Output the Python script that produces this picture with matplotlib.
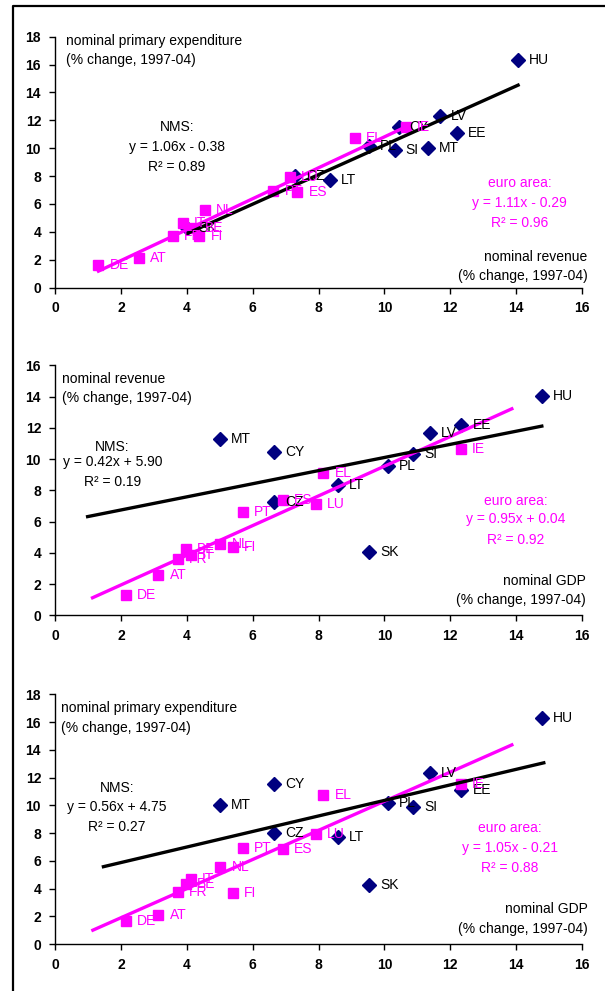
import numpy as np
import matplotlib
matplotlib.use("Agg")
import matplotlib.pyplot as plt
from matplotlib.lines import Line2D

plt.rcParams['font.family'] = ['Liberation Sans', 'DejaVu Sans']
plt.rcParams['font.size'] = 10

# new member states (NMS), % change 1997-04
nms_countries = ["HU", "LV", "EE", "MT", "SI", "PL", "CY", "CZ", "LT", "SK"]
nms_revenue = [14.06, 11.69, 12.19, 11.31, 10.31, 9.53, 10.43, 7.28, 8.34, 4.02]
nms_expenditure = [16.30, 12.31, 11.10, 10.00, 9.88, 10.14, 11.50, 8.00, 7.71, 4.24]
nms_gdp = [14.78, 11.38, 12.34, 5.01, 10.88, 10.11, 6.64, 6.64, 8.58, 9.54]

# euro area countries, % change 1997-04
ea_countries = ["DE", "AT", "FR", "BE", "IT", "NL", "FI", "PT", "ES", "LU", "EL", "IE"]
ea_revenue = [1.32, 2.55, 3.58, 4.22, 3.88, 4.54, 4.38, 6.63, 7.36, 7.12, 9.10, 10.66]
ea_expenditure = [1.65, 2.12, 3.73, 4.30, 4.65, 5.56, 3.70, 6.90, 6.88, 7.93, 10.73, 11.50]
ea_gdp = [2.16, 3.14, 3.73, 3.97, 4.12, 5.02, 5.39, 5.71, 6.93, 7.92, 8.15, 12.33]

# trend lines as printed on the chart (slope, intercept, x range drawn)
nms_slope = [1.06, 0.42, 0.56]
nms_intercept = [-0.38, 5.90, 4.75]
nms_r2 = [0.89, 0.19, 0.27]
nms_trend_range = [(4.02, 14.06), (0.99, 14.78), (1.47, 14.84)]
ea_slope = [1.11, 0.95, 1.05]
ea_intercept = [-0.29, 0.04, -0.21]
ea_r2 = [0.96, 0.92, 0.88]
ea_trend_range = [(1.32, 10.66), (1.14, 13.87), (1.15, 13.87)]

x_titles = ["nominal revenue", "nominal GDP", "nominal GDP"]
y_titles = ["nominal primary expenditure", "nominal revenue", "nominal primary expenditure"]
y_max = [18, 16, 18]

NAVY = "#000080"
MAGENTA = "#FF00FF"
PX = 0.72  # points per pixel at 100 dpi


def equation(slope, intercept):
    sign = "+" if intercept >= 0 else "-"
    return f"y = {slope:.2f}x {sign} {abs(intercept):.2f}"


def text_block(ax, pos, lines, gaps, color):
    # middle line anchored at pos, the others offset by gaps (pixels)
    x, y = pos
    ax.text(x, y, lines[1], ha="center", va="center", color=color)
    ax.annotate(lines[0], (x, y), xytext=(0, gaps[0] * PX), textcoords="offset points",
                ha="center", va="center", color=color)
    ax.annotate(lines[2], (x, y), xytext=(0, -gaps[1] * PX), textcoords="offset points",
                ha="center", va="center", color=color)


def draw_panel(ax, i, nms_x, nms_y, ea_x, ea_y, layout):
    ax.plot(nms_x, nms_y, linestyle="none", marker="D", markersize=7.5,
            color=NAVY, zorder=3)
    ax.plot(ea_x, ea_y, linestyle="none", marker="s", markersize=7,
            color=MAGENTA, zorder=4)

    # trend lines
    xs = np.array(ea_trend_range[i])
    ax.plot(xs, ea_slope[i] * xs + ea_intercept[i], color=MAGENTA, lw=2.4, zorder=5)
    xs = np.array(nms_trend_range[i])
    ax.plot(xs, nms_slope[i] * xs + nms_intercept[i], color="black", lw=2.4, zorder=6)

    for name, x, y in zip(nms_countries, nms_x, nms_y):
        ax.annotate(name, (x, y), xytext=(8, 0), textcoords="offset points",
                    va="center", ha="left", color="black", zorder=7)
    for name, x, y in zip(ea_countries, ea_x, ea_y):
        ax.annotate(name, (x, y), xytext=(8, 0), textcoords="offset points",
                    va="center", ha="left", color=MAGENTA, zorder=8)

    ax.set_xlim(0, 16)
    ax.set_ylim(0, y_max[i])
    ax.set_xticks(np.arange(0, 17, 2))
    ax.set_yticks(np.arange(0, y_max[i] + 1, 2))
    for s in ["top", "right"]:
        ax.spines[s].set_visible(False)
    for s in ["left", "bottom"]:
        ax.spines[s].set_linewidth(1.0)
    ax.tick_params(direction="out", length=4, width=1, labelsize=10, pad=6)
    for lab in ax.get_xticklabels() + ax.get_yticklabels():
        lab.set_fontweight("bold")

    yt, nt, ngaps, et, egaps, xt = layout
    ax.text(yt[0], yt[1], y_titles[i] + "\n(% change, 1997-04)", ha="left",
            va="center", linespacing=1.5)
    ax.text(xt[0], xt[1], x_titles[i] + "\n(% change, 1997-04)", ha="right",
            va="center", linespacing=1.5, multialignment="right")
    text_block(ax, nt, ["NMS:", equation(nms_slope[i], nms_intercept[i]),
                        f"R² = {nms_r2[i]:.2f}"], ngaps, "black")
    text_block(ax, et, ["euro area:", equation(ea_slope[i], ea_intercept[i]),
                        f"R² = {ea_r2[i]:.2f}"], egaps, MAGENTA)


fig = plt.figure(figsize=(6.05, 9.91), dpi=100)
W, H = 605.0, 991.0

# axes boxes in pixels: (left, x-axis y, top)
boxes = [(55, 287.5, 36.7), (55, 615.3, 365.3), (55, 944.0, 694.3)]
# text anchors in data units: y title, NMS block (+gaps px), euro block (+gaps px), x title
layouts = [
    ((0.32, 17.0), (3.7, 10.09), (19.6, 20.4), (14.1, 6.1), (20, 20), (16.16, 1.5)),
    ((0.22, 14.5), (1.74, 9.79), (15.6, 19.4), (13.98, 6.14), (18.7, 20.7), (16.12, 1.58)),
    ((0.18, 16.3), (1.88, 9.9), (19, 20), (13.8, 6.94), (20, 20.7), (16.18, 1.8)),
]
panel_data = [
    (nms_revenue, nms_expenditure, ea_revenue, ea_expenditure),
    (nms_gdp, nms_revenue, ea_gdp, ea_revenue),
    (nms_gdp, nms_expenditure, ea_gdp, ea_expenditure),
]

for i, (left, bottom, top) in enumerate(boxes):
    ax = fig.add_axes([left / W, 1 - bottom / H, 527 / W, (bottom - top) / H])
    draw_panel(ax, i, *panel_data[i], layouts[i])

# outer frame (left and top edges visible)
fig.add_artist(Line2D([13 / W, 13 / W, 1.01], [-0.01, 1 - 6 / H, 1 - 6 / H],
                      color="black", lw=1.6, transform=fig.transFigure))

fig.savefig("out.png", dpi=100)
